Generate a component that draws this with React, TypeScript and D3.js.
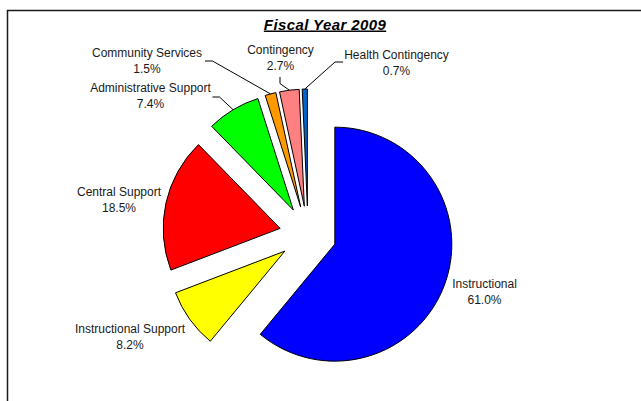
import React from "react";
import * as d3 from "d3";

// Budget shares by function, FY2009 (percent of total)
const categories = [
  "Instructional",
  "Instructional Support",
  "Central Support",
  "Administrative Support",
  "Community Services",
  "Contingency",
  "Health Contingency",
];
const shares = [61.0, 8.2, 18.5, 7.4, 1.5, 2.7, 0.7];
const sliceColors = ["#0000FF", "#FFFF00", "#FF0000", "#00FF00", "#FF9900", "#FF8080", "#0066CC"];

// Label placement: centre of the first text line, plus optional leader elbow points (toward the label)
const labelLayout: { x: number; y: number; leader?: [number, number][] }[] = [
  { x: 484.5, y: 284 },
  { x: 130, y: 329 },
  { x: 119, y: 191.5 },
  { x: 150.5, y: 88, leader: [[219.5, 97], [212.5, 97]] },
  { x: 147, y: 52.5, leader: [[212.5, 61], [205, 61]] },
  { x: 280.5, y: 49.5, leader: [[280, 83.5], [280, 77]] },
  { x: 396.5, y: 54.5, leader: [[335, 62], [343, 62]] },
];

const W = 641;
const H = 401;
const CX = 308;
const CY = 234.5;
const R = 117;
const EXPLODE = 28.5;

export default function App() {
  const rows = categories.map((name, i) => ({ name, value: shares[i], color: sliceColors[i] }));
  const pie = d3.pie<{ name: string; value: number; color: string }>()
    .sort(null)
    .value((d) => d.value)
    .startAngle(0)
    .endAngle(2 * Math.PI);
  const arcs = pie(rows);
  const arcGen = d3.arc<d3.PieArcDatum<any>>().innerRadius(0).outerRadius(R);

  return (
    <svg
      width={W}
      height={H}
      style={{ position: "absolute", left: 0, top: 0, background: "#fff" }}
      fontFamily="'Liberation Sans', Arial, sans-serif"
    >
      <rect x={0} y={0} width={W} height={H} fill="#fff" />
      <path d={`M7.5,${H} V10.5 H${W}`} fill="none" stroke="#1a1a1a" strokeWidth={1.5} />
      <text
        x={325}
        y={29.5}
        textAnchor="middle"
        fontSize={15}
        fontWeight="bold"
        fontStyle="italic"
        letterSpacing={0.4}
        textDecoration="underline"
        fill="#000"
      >
        Fiscal Year 2009
      </text>
      {arcs.map((a, i) => {
        const mid = (a.startAngle + a.endAngle) / 2;
        const ox = CX + EXPLODE * Math.sin(mid);
        const oy = CY - EXPLODE * Math.cos(mid);
        const edgeX = ox + R * Math.sin(mid);
        const edgeY = oy - R * Math.cos(mid);
        const lay = labelLayout[i];
        const pts: [number, number][] = lay.leader ? [[edgeX, edgeY], ...lay.leader] : [];
        return (
          <g key={a.data.name}>
            <path
              d={arcGen(a) as string}
              transform={`translate(${ox},${oy})`}
              fill={a.data.color}
              stroke="#000"
              strokeWidth={1}
              strokeLinejoin="miter"
            />
            {pts.length > 0 && (
              <path d={d3.line()(pts) as string} fill="none" stroke="#000" strokeWidth={1} />
            )}
          </g>
        );
      })}
      {arcs.map((a, i) => {
        const lay = labelLayout[i];
        return (
          <text key={a.data.name} textAnchor="middle" fontSize={12} fill="#1a1a1a">
            <tspan x={lay.x} y={lay.y + 4}>{a.data.name}</tspan>
            <tspan x={lay.x} y={lay.y + 20}>{a.data.value.toFixed(1)}%</tspan>
          </text>
        );
      })}
    </svg>
  );
}
